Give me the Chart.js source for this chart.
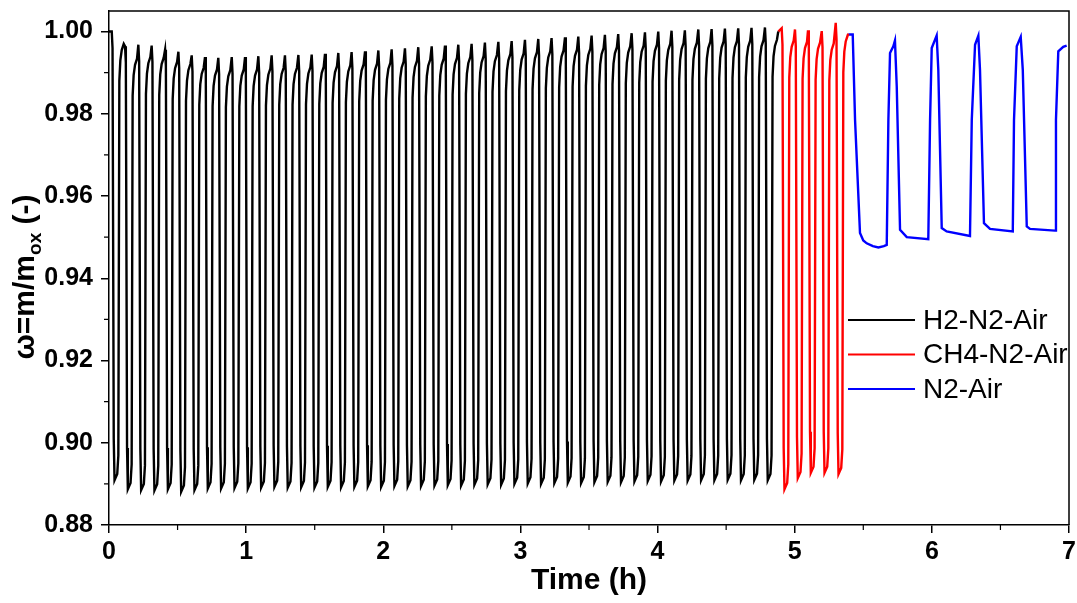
<!DOCTYPE html>
<html>
<head>
<meta charset="utf-8">
<script src="https://cdn.jsdelivr.net/npm/chart.js@4.4.0/dist/chart.umd.min.js"></script>
<style>
  html, body { margin: 0; padding: 0; background: #fff; }
  #wrap { width: 1077px; height: 603px; }
</style>
</head>
<body>
<div id="wrap"><canvas id="cycleChart" width="1077" height="603"></canvas></div>
<script>
const seriesNames = ['H2-N2-Air', 'CH4-N2-Air', 'N2-Air'];
const seriesColors = ['#000000', '#ff0000', '#0000ff'];
const xTicks = [0, 1, 2, 3, 4, 5, 6, 7];
const yTicks = [0.88, 0.90, 0.92, 0.94, 0.96, 0.98, 1.00];

// H2-N2-Air : first point, then time (h) of every peak, its value and the trough after it
const h2Start = [0, 1.000];
const h2PeakTimes = [0.020,
  0.117, 0.214, 0.311, 0.409, 0.506, 0.603, 0.700, 0.797, 0.895, 0.992,
  1.089, 1.186, 1.283, 1.381, 1.478, 1.575, 1.672, 1.769, 1.867, 1.964,
  2.061, 2.158, 2.255, 2.353, 2.450, 2.547, 2.644, 2.741, 2.839, 2.936,
  3.033, 3.130, 3.227, 3.325, 3.422, 3.519, 3.616, 3.713, 3.811, 3.908,
  4.005, 4.102, 4.199, 4.297, 4.394, 4.491, 4.588, 4.685, 4.783, 4.880];
const h2Peaks = [1.000,
  0.9964, 0.9968, 0.9966, 0.9956, 0.9951, 0.9942, 0.9938, 0.9936, 0.9938, 0.9938,
  0.9940, 0.9942, 0.9942, 0.9943, 0.9944, 0.9946, 0.9948, 0.9950, 0.9952, 0.9954,
  0.9957, 0.9959, 0.9962, 0.9964, 0.9966, 0.9968, 0.9970, 0.9973, 0.9975, 0.9977,
  0.9980, 0.9982, 0.9984, 0.9986, 0.9988, 0.9990, 0.9992, 0.9994, 0.9996, 0.9998,
  1.0000, 1.0002, 1.0003, 1.0005, 1.0006, 1.0007, 1.0008, 1.0009, 1.0010, 1.0000];
const h2Troughs = [0.8909,
  0.8887, 0.8885, 0.8884, 0.8887, 0.8881, 0.8885, 0.8889, 0.8889, 0.8890, 0.8889,
  0.8891, 0.8893, 0.8891, 0.8892, 0.8891, 0.8893, 0.8892, 0.8893, 0.8894, 0.8893,
  0.8895, 0.8894, 0.8895, 0.8896, 0.8897, 0.8896, 0.8898, 0.8899, 0.8898, 0.8900,
  0.8901, 0.8900, 0.8902, 0.8903, 0.8902, 0.8904, 0.8905, 0.8904, 0.8906, 0.8907,
  0.8906, 0.8908, 0.8908, 0.8909, 0.8909, 0.8910, 0.8909, 0.8910, 0.8909];

// CH4-N2-Air
const ch4Start = [4.880, 1.000];
const ch4PeakTimes = [4.905, 5.002, 5.097, 5.197, 5.299];
const ch4Peaks = [1.0008, 1.0005, 1.0003, 1.0001, 1.0021];
const ch4Troughs = [0.8887, 0.8914, 0.8927, 0.8927, 0.8924];
const ch4End = [5.391, 0.9995];

// N2-Air
const n2Times = [5.391, 5.423, 5.440, 5.476, 5.500, 5.525, 5.570, 5.610, 5.650, 5.671,
  5.683, 5.695, 5.719, 5.731, 5.744, 5.768, 5.817, 5.974,
  5.987, 5.999, 6.035, 6.047, 6.072, 6.108, 6.278,
  6.291, 6.315, 6.339, 6.351, 6.380, 6.424, 6.590,
  6.599, 6.619, 6.648, 6.663, 6.692, 6.716, 6.898,
  6.905, 6.922, 6.958, 6.983];
const n2Values = [0.9993, 0.9993, 0.9785, 0.9510, 0.9492, 0.9485, 0.9478, 0.9475, 0.9478, 0.9481,
  0.9785, 0.9948, 0.9964, 0.9978, 0.9866, 0.9518, 0.9500, 0.9495,
  0.9785, 0.9960, 0.9990, 0.9907, 0.9522, 0.9514, 0.9503,
  0.9785, 0.9968, 0.9990, 0.9907, 0.9534, 0.9520, 0.9514,
  0.9785, 0.9964, 0.9987, 0.9907, 0.9526, 0.9520, 0.9516,
  0.9785, 0.9952, 0.9963, 0.9966];

// shape of one cycle after its peak: time after peak (h), level it hangs from, offset
const cycleDt = [0.0058, 0.0146, 0.0204, 0.0401, 0.0481, 0.0554, 0.0627, 0.0729, 0.0875];
const cycleFrom = ['P', 'T', 'T', 'T', 'T', 'P', 'P', 'P', 'P'];
const cycleOffset = [-0.004, 0.010, 0, 0.0015, 0.006, -0.012, -0.007, -0.0045, -0.003];

function buildCycles(start, times, peaks, troughs, end) {
    const pts = [{ x: start[0], y: start[1] }];
    times.forEach((t, i) => {
        pts.push({ x: t, y: peaks[i] });
        if (i < troughs.length) {
            cycleDt.forEach((dt, j) => {
                const base = cycleFrom[j] === 'P' ? peaks[i] : troughs[i];
                pts.push({ x: t + dt, y: base + cycleOffset[j] });
            });
        }
    });
    if (end) pts.push({ x: end[0], y: end[1] });
    return pts;
}

const h2Data = buildCycles(h2Start, h2PeakTimes, h2Peaks, h2Troughs.slice(0, h2PeakTimes.length - 1));
const ch4Data = buildCycles(ch4Start, ch4PeakTimes, ch4Peaks, ch4Troughs, ch4End);
const n2Data = n2Times.map((t, i) => ({ x: t, y: n2Values[i] }));

const FONT = "'Liberation Sans', Arial, sans-serif";

const extras = {
    id: 'extras',
    afterDraw(chart) {
        const ctx = chart.ctx;
        const area = chart.chartArea;
        const xs = chart.scales.x, ys = chart.scales.y;
        ctx.save();
        ctx.strokeStyle = '#000';
        ctx.lineWidth = 1.5;
        // top and right frame
        ctx.beginPath();
        ctx.moveTo(area.left, area.top);
        ctx.lineTo(area.right, area.top);
        ctx.lineTo(area.right, area.bottom);
        ctx.stroke();
        // minor ticks
        ctx.lineWidth = 1.2;
        ctx.beginPath();
        for (let i = 0; i < xTicks.length - 1; i++) {
            const px = xs.getPixelForValue((xTicks[i] + xTicks[i + 1]) / 2);
            ctx.moveTo(px, area.bottom);
            ctx.lineTo(px, area.bottom + 5);
        }
        for (let i = 0; i < yTicks.length - 1; i++) {
            const py = ys.getPixelForValue((yTicks[i] + yTicks[i + 1]) / 2);
            ctx.moveTo(area.left, py);
            ctx.lineTo(area.left - 5, py);
        }
        ctx.stroke();

        // y title with subscript
        const main = 'ω=m/m', sub = 'ox', tail = ' (-)';
        const bigFont = 'bold 30px ' + FONT, smallFont = 'bold 19px ' + FONT;
        ctx.font = bigFont;
        const wMain = ctx.measureText(main).width;
        const wTail = ctx.measureText(tail).width;
        ctx.font = smallFont;
        const wSub = ctx.measureText(sub).width;
        const total = wMain + wSub + wTail;
        ctx.translate(34, (area.top + area.bottom) / 2 + 9);
        ctx.rotate(-Math.PI / 2);
        ctx.fillStyle = '#000';
        ctx.textBaseline = 'alphabetic';
        ctx.textAlign = 'left';
        let cx = -total / 2;
        ctx.font = bigFont;
        ctx.fillText(main, cx, 0);
        cx += wMain;
        ctx.font = smallFont;
        ctx.fillText(sub, cx, 7);
        cx += wSub;
        ctx.font = bigFont;
        ctx.fillText(tail, cx, 0);
        ctx.restore();

        // legend inside the plot
        ctx.save();
        ctx.font = '28px ' + FONT;
        ctx.textBaseline = 'middle';
        ctx.fillStyle = '#000';
        chart.data.datasets.forEach((ds, i) => {
            const y = area.top + 309 + i * 34.5;
            ctx.strokeStyle = ds.borderColor;
            ctx.lineWidth = 2;
            ctx.beginPath();
            ctx.moveTo(area.right - 221, y);
            ctx.lineTo(area.right - 154, y);
            ctx.stroke();
            ctx.fillText(ds.label, area.right - 146, y + 1);
        });
        ctx.restore();
    }
};

const ctx = document.getElementById('cycleChart').getContext('2d');
const cycleChart = new Chart(ctx, {
    type: 'line',
    data: {
        datasets: [
            { label: seriesNames[0], data: h2Data, borderColor: seriesColors[0] },
            { label: seriesNames[1], data: ch4Data, borderColor: seriesColors[1] },
            { label: seriesNames[2], data: n2Data, borderColor: seriesColors[2] }
        ]
    },
    options: {
        responsive: false,
        animation: false,
        devicePixelRatio: 1,
        layout: { padding: { top: 11, right: 8, left: 0, bottom: 4 } },
        elements: {
            point: { radius: 0 },
            line: { borderWidth: 2.4, tension: 0, fill: false }
        },
        plugins: { legend: { display: false }, tooltip: { enabled: false } },
        scales: {
            x: {
                type: 'linear',
                min: 0,
                max: 7,
                afterBuildTicks: s => { s.ticks = xTicks.map(v => ({ value: v })); },
                afterFit: s => { s.height = 74; s.paddingLeft = 0; s.paddingRight = 0; },
                ticks: { color: '#000', font: { family: FONT, size: 25, weight: 'bold' }, padding: 4, maxRotation: 0 },
                grid: { drawOnChartArea: false, drawTicks: true, tickLength: 8, color: '#000', lineWidth: 1.5 },
                border: { display: true, color: '#000', width: 1.5 },
                title: { display: true, text: 'Time (h)', color: '#000', font: { family: FONT, size: 30, weight: 'bold' }, padding: 0 }
            },
            y: {
                min: 0.88,
                max: 1.005,
                afterBuildTicks: s => { s.ticks = yTicks.map(v => ({ value: v })); },
                afterFit: s => { s.width = 109; s.paddingTop = 0; s.paddingBottom = 0; },
                ticks: { color: '#000', font: { family: FONT, size: 25, weight: 'bold' }, padding: 8, callback: v => v.toFixed(2) },
                grid: { drawOnChartArea: false, drawTicks: true, tickLength: 8, color: '#000', lineWidth: 1.5 },
                border: { display: true, color: '#000', width: 1.5 }
            }
        }
    },
    plugins: [extras]
});
</script>
</body>
</html>
